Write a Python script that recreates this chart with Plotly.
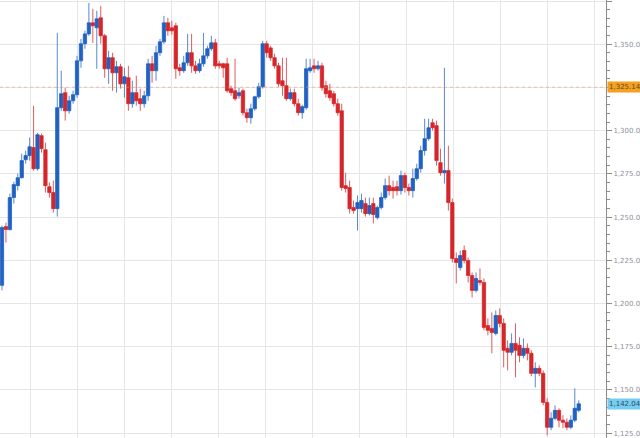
import plotly.graph_objects as go

# OHLC values (price units)
opens = [1210.5,1244.5,1242.8,1261.3,1268.2,1272.8,1283.2,1285.6,1290.2,1278.0,
         1297.1,1289.0,1267.6,1264.2,1254.9,1313.3,1322.0,1311.5,1317.3,1320.8,
         1340.4,1350.3,1356.0,1362.4,1359.5,1365.3,1354.9,1335.8,1342.2,1333.5,
         1337.0,1327.1,1330.6,1315.6,1322.0,1318.5,1315.6,1320.2,1338.7,1334.7,
         1345.1,1351.4,1362.4,1359.5,1360.7,1336.4,1334.7,1339.3,1345.1,1337.5,
         1334.7,1338.7,1343.3,1347.4,1350.8,1338.7,1338.7,1338.7,1324.3,1323.1,
         1320.2,1323.1,1310.4,1307.5,1312.7,1319.6,1325.4,1350.3,1347.9,1342.2,
         1337.5,1328.9,1326.0,1318.5,1322.0,1315.6,1310.4,1313.3,1334.7,1337.5,
         1335.8,1337.5,1326.0,1323.1,1321.4,1315.6,1311.5,1268.2,1267.1,1255.5,
         1254.9,1254.9,1257.8,1252.0,1257.8,1249.7,1255.5,1261.3,1268.2,1267.1,
         1267.6,1265.3,1274.0,1267.1,1265.3,1272.3,1278.0,1288.5,1295.4,1304.6,
         1302.9,1281.5,1275.7,1276.9,1258.4,1226.0,1220.8,1230.7,1224.9,1216.2,
         1207.6,1213.3,1212.2,1187.3,1185.6,1182.7,1193.1,1188.5,1174.1,1171.8,
         1176.9,1175.8,1170.0,1174.1,1171.2,1159.6,1162.5,1159.6,1142.8,1128.4,
         1133.6,1138.2,1132.5,1131.3,1128.4,1132.5,1138.2]
highs = [1245.1,1246.8,1263.6,1270.5,1275.2,1286.7,1288.5,1296.0,1314.4,1298.8,
         1298.3,1293.1,1270.0,1271.1,1356.6,1334.7,1324.8,1320.2,1323.1,1343.3,
         1353.1,1357.8,1373.9,1370.5,1369.3,1372.2,1356.0,1346.2,1345.1,1340.4,
         1338.7,1336.4,1337.5,1328.9,1331.8,1324.3,1323.1,1341.6,1343.3,1349.1,
         1353.1,1366.4,1365.3,1363.5,1362.4,1338.7,1343.3,1356.0,1356.0,1340.4,
         1341.6,1356.6,1349.1,1354.9,1353.1,1340.4,1339.3,1342.2,1326.0,1341.6,
         1324.8,1324.3,1312.7,1315.6,1320.2,1327.7,1352.0,1352.0,1349.1,1344.5,
         1339.3,1342.2,1342.2,1324.3,1324.3,1318.5,1315.0,1341.6,1341.6,1341.6,
         1340.4,1339.3,1328.9,1327.1,1323.1,1318.5,1315.6,1275.7,1271.1,1259.6,
         1262.5,1263.6,1261.3,1261.3,1261.3,1256.7,1264.2,1272.3,1274.0,1271.1,
         1271.1,1276.9,1275.7,1269.4,1278.0,1280.9,1291.3,1306.9,1306.9,1306.9,
         1305.8,1289.6,1336.4,1291.3,1260.7,1229.5,1230.7,1233.6,1226.6,1218.0,
         1218.0,1220.3,1214.5,1191.4,1194.9,1196.0,1197.2,1191.4,1178.7,1182.7,
         1188.5,1180.4,1179.8,1176.9,1172.9,1166.0,1164.2,1161.3,1145.2,1137.1,
         1141.1,1139.4,1135.3,1133.6,1135.3,1150.9,1144.0]
lows = [1207.6,1235.3,1242.2,1257.8,1265.3,1272.3,1280.9,1282.7,1276.9,1276.9,
        1287.3,1264.2,1261.3,1252.6,1250.3,1311.5,1305.8,1309.8,1315.6,1319.1,
        1336.4,1347.4,1354.9,1350.8,1335.8,1350.3,1330.6,1327.1,1323.1,1322.0,
        1324.3,1319.1,1311.5,1313.3,1314.4,1311.5,1313.3,1317.3,1327.7,1328.9,
        1343.3,1350.3,1354.9,1355.5,1330.0,1331.8,1333.5,1337.5,1333.5,1332.9,
        1333.5,1337.0,1341.6,1346.2,1335.8,1335.8,1330.6,1322.0,1320.2,1317.3,
        1318.5,1308.7,1304.6,1304.0,1311.5,1318.5,1324.3,1342.2,1340.4,1335.8,
        1325.4,1320.2,1317.3,1317.3,1313.9,1308.7,1306.9,1312.1,1333.5,1333.5,
        1334.7,1323.1,1319.1,1317.3,1313.9,1308.7,1265.3,1264.2,1252.0,1252.0,
        1242.2,1252.6,1250.3,1250.9,1246.3,1248.6,1254.4,1260.1,1262.5,1260.7,
        1262.5,1263.0,1264.2,1262.5,1261.3,1271.1,1275.7,1285.6,1294.2,1300.0,
        1279.8,1274.0,1269.4,1253.8,1223.7,1211.6,1219.1,1223.2,1212.2,1203.5,
        1206.4,1210.5,1184.5,1181.6,1171.2,1181.6,1186.2,1163.1,1161.3,1170.0,
        1157.3,1166.0,1168.3,1167.1,1157.9,1151.5,1157.9,1141.1,1123.8,1126.7,
        1132.5,1128.4,1127.8,1126.7,1127.3,1131.3,1137.1]
closes = [1244.0,1242.8,1261.3,1268.8,1272.8,1282.7,1285.6,1290.7,1278.0,1297.7,
          1289.6,1268.2,1264.2,1254.9,1313.3,1321.4,1311.5,1317.3,1320.8,1340.4,
          1350.3,1356.0,1362.4,1360.7,1364.7,1354.9,1335.8,1342.2,1333.5,1337.0,
          1327.1,1331.2,1315.6,1322.0,1317.3,1315.6,1320.2,1338.7,1334.7,1345.1,
          1351.4,1362.4,1357.8,1357.8,1335.8,1334.7,1339.3,1345.1,1337.5,1334.7,
          1338.7,1343.3,1347.4,1350.8,1337.5,1337.5,1336.4,1323.1,1322.0,1318.5,
          1322.0,1310.4,1307.5,1312.7,1319.6,1325.4,1350.3,1345.1,1342.2,1337.5,
          1327.1,1326.0,1318.5,1322.0,1315.6,1310.4,1313.9,1335.8,1336.4,1335.8,
          1337.5,1324.8,1321.4,1319.1,1315.6,1310.4,1267.1,1266.5,1254.9,1253.8,
          1258.4,1259.6,1252.0,1256.7,1251.5,1255.5,1261.3,1268.2,1265.3,1265.3,
          1265.3,1274.0,1267.1,1265.3,1272.3,1278.0,1288.5,1295.4,1301.7,1301.7,
          1282.7,1275.7,1276.9,1258.4,1226.0,1223.7,1227.8,1224.9,1216.2,1207.6,
          1214.5,1212.2,1186.2,1184.5,1183.3,1193.1,1188.5,1172.9,1171.8,1176.9,
          1172.9,1170.0,1174.1,1171.2,1159.6,1162.5,1159.6,1142.8,1128.4,1133.6,
          1138.2,1132.5,1131.3,1128.4,1132.5,1139.4,1142.0]
bars = list(range(len(closes)))

y_ticks = [1125, 1150, 1175, 1200, 1225, 1250, 1275, 1300, 1325, 1350, 1375]
y_tick_labels = ["1,125.00", "1,150.00", "1,175.00", "1,200.00", "1,225.00",
                 "1,250.00", "1,275.00", "1,300.00", "", "1,350.00", "1,375.00"]
marker_price = 1325.14
last_price = 1142.04

BLUE = "#1f62c2"
RED = "#d6262a"

fig = go.Figure(go.Candlestick(
    x=bars, open=opens, high=highs, low=lows, close=closes,
    increasing=dict(line=dict(color="rgba(31,98,194,0.75)", width=1), fillcolor=BLUE),
    decreasing=dict(line=dict(color="rgba(214,38,42,0.75)", width=1), fillcolor=RED),
    whiskerwidth=0, showlegend=False, hoverinfo="skip",
))

fig.add_shape(type="line", xref="paper", x0=0, x1=1, yref="y",
              y0=marker_price, y1=marker_price,
              line=dict(color="rgba(240,150,110,0.55)", width=1, dash="dot"))

fig.add_annotation(xref="paper", x=1, xanchor="left", xshift=1,
                   yref="y", y=marker_price, yanchor="middle",
                   text=f"{marker_price:,.2f}", showarrow=False,
                   bgcolor="#f5a01e", font=dict(size=7, color="#5a4a30",
                   family="DejaVu Sans"), borderpad=1, align="left")
fig.add_annotation(xref="paper", x=1, xanchor="left", xshift=1,
                   yref="y", y=last_price, yanchor="middle",
                   text=f"{last_price:,.2f}", showarrow=False,
                   bgcolor="#74cdf2", font=dict(size=7, color="#3a4a5a",
                   family="DejaVu Sans"), borderpad=1, align="left")

fig.update_layout(
    width=640, height=438,
    margin=dict(l=0, r=34, t=0, b=0),
    paper_bgcolor="white", plot_bgcolor="white",
    boxgap=0.15, boxgroupgap=0.0,
    xaxis=dict(range=[-0.5, 152.9], tick0=7.1, dtick=11.9, showticklabels=False,
               showgrid=True, gridcolor="#e6e6e6", gridwidth=1, zeroline=False,
               rangeslider=dict(visible=False), showline=False, ticks=""),
    yaxis=dict(side="right", range=[1122.2, 1375.6], tickvals=y_ticks,
               ticktext=y_tick_labels, showgrid=True, gridcolor="#e6e6e6",
               zeroline=False, showline=True, linecolor="#8c8c8c", linewidth=1,
               ticks="outside", ticklen=5, tickcolor="#8c8c8c",
               tickfont=dict(size=7, color="#8a909a", family="DejaVu Sans"),
               automargin=False,
               minor=dict(dtick=5, tick0=1125, ticks="outside", ticklen=3,
                          tickcolor="#8c8c8c", showgrid=False)),
)

fig.write_html("out.html", config={"displayModeBar": False},
               post_script="document.body.style.margin='0';document.body.style.overflow='hidden';")
